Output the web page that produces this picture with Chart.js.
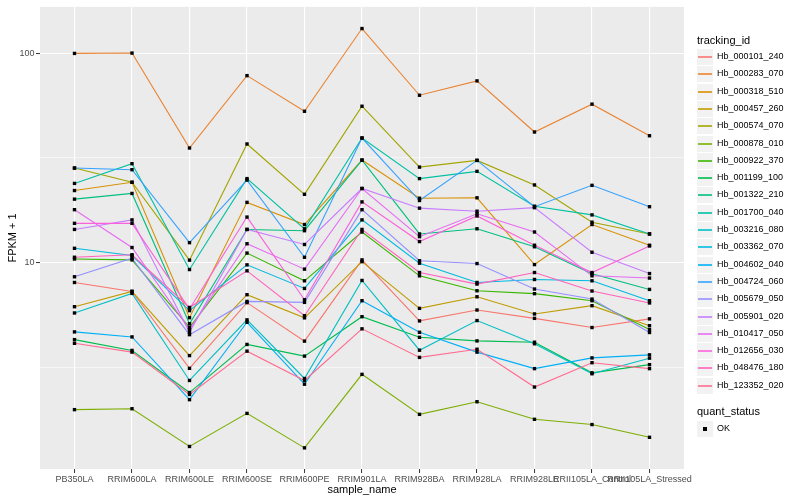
<!DOCTYPE html>
<html>
<head>
<meta charset="utf-8">
<script src="https://cdn.jsdelivr.net/npm/chart.js@4.4.1/dist/chart.umd.min.js"></script>
<style>
body { margin: 0; background: #fff; }
#wrap { position: relative; width: 800px; height: 500px; font-family: "Liberation Sans", Arial, sans-serif; }
#legend { position: absolute; left: 0; top: 0; }
.ltitle { position: absolute; left: 697px; font-size: 11px; line-height: 13px; color: #000; white-space: nowrap; }
.key { position: absolute; left: 697px; width: 16px; height: 16px; background: #f2f2f2; }
.key i { position: absolute; left: 1px; right: 1px; top: 7px; height: 2px; opacity: 0.8; }
.key b { position: absolute; left: 6px; top: 6px; width: 4px; height: 4px; background: #000; }
.lab { position: absolute; left: 717px; font-size: 9px; line-height: 11px; color: #000; white-space: nowrap; }
</style>
</head>
<body>
<div id="wrap">
  <canvas id="fpkmChart" width="800" height="500"></canvas>
  <div id="legend"></div>
</div>
<script>
const categories = ['PB350LA', 'RRIM600LA', 'RRIM600LE', 'RRIM600SE', 'RRIM600PE', 'RRIM901LA',
    'RRIM928BA', 'RRIM928LA', 'RRIM928LE', 'RRII105LA_Control', 'RRII105LA_Stressed'];

const trackingIds = ['Hb_000101_240', 'Hb_000283_070', 'Hb_000318_510', 'Hb_000457_260', 'Hb_000574_070',
    'Hb_000878_010', 'Hb_000922_370', 'Hb_001199_100', 'Hb_001322_210', 'Hb_001700_040',
    'Hb_003216_080', 'Hb_003362_070', 'Hb_004602_040', 'Hb_004724_060', 'Hb_005679_050',
    'Hb_005901_020', 'Hb_010417_050', 'Hb_012656_030', 'Hb_048476_180', 'Hb_123352_020'];

const trackingColors = ['#F8766D', '#EA8331', '#D89000', '#C09B00', '#A3A500',
    '#7CAE00', '#39B600', '#00BB4E', '#00BF7D', '#00C1A3',
    '#00BFC4', '#00BAE0', '#00B0F6', '#35A2FF', '#9590FF',
    '#C77CFF', '#E76BF3', '#FA62DB', '#FF62BC', '#FF6C91'];

// FPKM + 1 per sample, same order as categories
const hb_000101_240 = [8.03, 7.28, 3.12, 6.43, 4.21, 10.3, 5.26, 5.93, 5.41, 4.89, 5.38];
const hb_000283_070 = [100, 100.4, 35.3, 78.3, 52.9, 131.5, 63.1, 73.9, 42.1, 57.2, 40.4];
const hb_000318_510 = [22.1, 24.2, 5.45, 19.4, 15.2, 30.9, 20.3, 20.4, 9.78, 15.2, 12.1];
const hb_000457_260 = [6.15, 7.28, 3.59, 7.02, 5.44, 10.1, 6.04, 6.86, 5.68, 6.22, 4.99];
const hb_000574_070 = [28.3, 24.2, 10.27, 36.9, 21.2, 55.9, 28.6, 30.8, 23.5, 15.6, 13.7];
const hb_000878_010 = [1.98, 2.00, 1.32, 1.90, 1.30, 2.92, 1.88, 2.16, 1.78, 1.68, 1.46];
const hb_000922_370 = [10.4, 10.3, 4.90, 11.1, 8.18, 14.0, 8.64, 7.33, 7.10, 6.57, 4.78];
const hb_001199_100 = [4.28, 3.80, 2.39, 4.06, 3.57, 5.51, 4.39, 4.22, 4.16, 2.97, 3.25];
const hb_001322_210 = [20.1, 21.4, 5.10, 14.4, 14.2, 30.9, 13.7, 14.5, 11.9, 8.84, 7.44];
const hb_001700_040 = [23.9, 29.7, 9.26, 25.2, 14.5, 39.4, 25.2, 27.3, 18.6, 16.9, 13.7];
const hb_003216_080 = [5.74, 7.12, 2.73, 5.32, 2.79, 8.21, 3.81, 5.28, 4.09, 2.94, 3.49];
const hb_003362_070 = [11.7, 10.8, 5.89, 9.75, 7.52, 16.0, 9.93, 8.03, 8.30, 8.18, 6.57];
const hb_004602_040 = [4.66, 4.41, 2.21, 5.18, 2.62, 6.57, 4.64, 3.73, 3.11, 3.50, 3.62];
const hb_004724_060 = [28.3, 27.8, 12.45, 24.8, 10.6, 39.4, 19.8, 30.8, 18.5, 23.4, 18.5];
const hb_005679_050 = [8.55, 10.5, 4.52, 6.52, 6.45, 17.9, 10.2, 9.89, 7.47, 6.69, 4.63];
const hb_005901_020 = [14.4, 16.0, 4.64, 14.4, 12.2, 22.6, 18.2, 17.6, 18.3, 11.2, 8.86];
const hb_010417_050 = [17.9, 11.8, 4.78, 12.3, 9.30, 22.6, 13.3, 17.1, 14.0, 8.64, 8.43];
const hb_012656_030 = [15.4, 15.4, 6.00, 16.5, 6.64, 19.5, 12.6, 16.7, 12.1, 8.96, 12.0];
const hb_048476_180 = [10.6, 10.9, 6.10, 9.13, 5.57, 14.4, 8.96, 7.89, 8.96, 7.31, 6.41];
const hb_123352_020 = [4.11, 3.73, 2.34, 3.77, 2.73, 4.82, 3.52, 3.85, 2.54, 3.32, 3.11];

const seriesValues = [hb_000101_240, hb_000283_070, hb_000318_510, hb_000457_260, hb_000574_070,
    hb_000878_010, hb_000922_370, hb_001199_100, hb_001322_210, hb_001700_040,
    hb_003216_080, hb_003362_070, hb_004602_040, hb_004724_060, hb_005679_050,
    hb_005901_020, hb_010417_050, hb_012656_030, hb_048476_180, hb_123352_020];

const majorBreaks = [10, 100];
const minorBreaks = [3.162, 31.62];
const quantStatus = ['OK'];

const fontFamily = '"Liberation Sans", Arial, sans-serif';

function toPoints(values) {
    return values.map((v, j) => ({ x: j, y: v }));
}

const lineSets = seriesValues.map((vals, i) => ({
    label: trackingIds[i],
    data: toPoints(vals),
    borderColor: trackingColors[i],
    backgroundColor: trackingColors[i],
    borderWidth: 1.1,
    pointRadius: 0,
    fill: false,
    tension: 0,
    order: 100 - i
}));

const pointSets = seriesValues.map((vals, i) => ({
    label: trackingIds[i] + ' ' + quantStatus[0],
    data: toPoints(vals),
    showLine: false,
    pointStyle: 'rect',
    pointRadius: 2.4,
    pointBorderWidth: 0,
    pointBackgroundColor: '#000',
    pointBorderColor: '#000',
    order: 0
}));

const panelBackground = {
    id: 'panelBackground',
    beforeDraw(chart) {
        const { ctx, chartArea } = chart;
        ctx.save();
        ctx.fillStyle = '#EBEBEB';
        ctx.fillRect(chartArea.left, chartArea.top, chartArea.right - chartArea.left, chartArea.bottom - chartArea.top);
        ctx.restore();
    }
};

const isMajor = v => majorBreaks.includes(v);

new Chart(document.getElementById('fpkmChart'), {
    type: 'line',
    data: { datasets: lineSets.concat(pointSets) },
    plugins: [panelBackground],
    options: {
        responsive: false,
        animation: false,
        devicePixelRatio: 1,
        layout: { padding: { left: 0, right: 116, top: 5, bottom: 0 } },
        plugins: {
            legend: { display: false },
            tooltip: { enabled: false }
        },
        scales: {
            x: {
                type: 'linear',
                min: -0.6,
                max: 10.6,
                afterBuildTicks: scale => {
                    scale.ticks = categories.map((c, i) => ({ value: i }));
                },
                afterFit: scale => { scale.height = 31; },
                ticks: {
                    autoSkip: false,
                    maxRotation: 0,
                    minRotation: 0,
                    padding: 1,
                    color: '#4D4D4D',
                    font: { family: fontFamily, size: 9 },
                    callback: v => categories[v]
                },
                grid: {
                    color: '#FFFFFF',
                    lineWidth: 1.1,
                    drawTicks: true,
                    tickLength: 4,
                    tickColor: '#333333',
                    tickWidth: 1
                },
                border: { display: false },
                title: {
                    display: true,
                    text: 'sample_name',
                    color: '#000',
                    font: { family: fontFamily, size: 11 },
                    padding: { top: 0, bottom: 3.4 }
                }
            },
            y: {
                type: 'logarithmic',
                min: 1.03,
                max: 166.9,
                afterBuildTicks: scale => {
                    scale.ticks = minorBreaks.concat(majorBreaks).sort((a, b) => a - b).map(v => ({ value: v }));
                },
                afterFit: scale => { scale.width = 40; },
                ticks: {
                    padding: 1.5,
                    color: '#4D4D4D',
                    font: { family: fontFamily, size: 9 },
                    callback: v => isMajor(v) ? String(v) : ''
                },
                grid: {
                    color: '#FFFFFF',
                    lineWidth: ctx => isMajor(ctx.tick.value) ? 1.1 : 0.55,
                    drawTicks: true,
                    tickLength: 4,
                    tickColor: ctx => isMajor(ctx.tick.value) ? '#333333' : 'rgba(0,0,0,0)',
                    tickWidth: 1
                },
                border: { display: false },
                title: {
                    display: true,
                    text: 'FPKM + 1',
                    color: '#000',
                    font: { family: fontFamily, size: 11 },
                    padding: { top: 6.4, bottom: 0 }
                }
            }
        }
    }
});

// ggplot style legend on the right
const legend = document.getElementById('legend');
let html = '<div class="ltitle" style="top:34px">tracking_id</div>';
trackingIds.forEach((id, i) => {
    const cy = Math.round(57 + i * 17.3);
    html += '<div class="key" style="top:' + (cy - 8) + 'px"><i style="background-color:' + trackingColors[i] + '"></i></div>';
    html += '<div class="lab" style="top:' + (cy - 6) + 'px">' + id + '</div>';
});
html += '<div class="ltitle" style="top:405px">quant_status</div>';
quantStatus.forEach((s, i) => {
    const cy = 429 + i * 17;
    html += '<div class="key" style="top:' + (cy - 8) + 'px"><b></b></div>';
    html += '<div class="lab" style="top:' + (cy - 6) + 'px">' + s + '</div>';
});
legend.innerHTML = html;
</script>
</body>
</html>
